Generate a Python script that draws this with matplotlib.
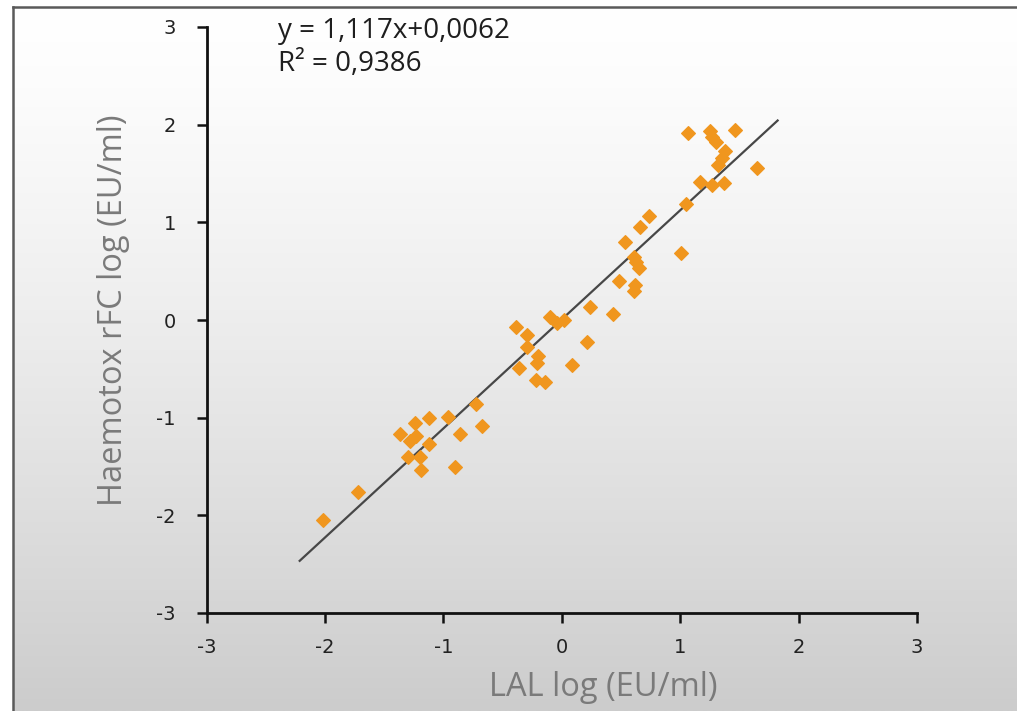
import numpy as np
import matplotlib
matplotlib.use("Agg")
import matplotlib.pyplot as plt
from matplotlib.lines import Line2D

# LAL vs Haemotox rFC endotoxin readings (log EU/ml)
lal_log = [
    -2.02, -1.72,
    -1.37, -1.24, -1.23, -1.28, -1.12, -0.96, -0.72, -0.67, -0.86, -1.12,
    -1.30, -1.20, -1.19, -0.90,
    -0.39, -0.29, -0.10, -0.04, 0.02, 0.24, 0.43, -0.29, -0.20, -0.21,
    -0.36, -0.22, -0.14, 0.21, 0.09,
    1.05, 0.74, 0.66, 0.53, 0.61, 0.63, 0.65, 1.01, 0.48, 0.62, 0.61,
    1.07, 1.25, 1.27, 1.30, 1.46, 1.38, 1.35, 1.32, 1.65, 1.17, 1.27, 1.37,
]
rfc_log = [
    -2.05, -1.76,
    -1.17, -1.05, -1.19, -1.24, -1.00, -0.99, -0.86, -1.09, -1.17, -1.27,
    -1.40, -1.40, -1.54, -1.51,
    -0.07, -0.15, 0.03, -0.03, 0.00, 0.13, 0.06, -0.28, -0.37, -0.44,
    -0.49, -0.61, -0.63, -0.23, -0.46,
    1.19, 1.06, 0.95, 0.80, 0.65, 0.59, 0.53, 0.69, 0.40, 0.36, 0.30,
    1.91, 1.94, 1.87, 1.82, 1.95, 1.73, 1.66, 1.59, 1.56, 1.41, 1.38, 1.40,
]

slope = 1.117
intercept = 0.0062
r_squared = 0.9386
fit_range = [-2.22, 1.83]

axis_ticks = [-3, -2, -1, 0, 1, 2, 3]

W, H = 1017, 711
fig = plt.figure(figsize=(W / 100, H / 100), dpi=100)
fig.patch.set_facecolor("white")

# soft vertical gradient backdrop with a thin frame on top and left
bg = fig.add_axes([0, 0, 1, 1], zorder=-10)
bg.set_xlim(0, W)
bg.set_ylim(H, 0)
bg.axis("off")
grad = np.linspace(0, 1, 256)[:, None]
top_c = np.array([1.0, 1.0, 1.0])
bot_c = np.array([0.80, 0.80, 0.80])
shade = grad ** 1.3
img = top_c[None, None, :] * (1 - shade[..., None]) + bot_c[None, None, :] * shade[..., None]
img = np.repeat(img, 2, axis=1)
bg.imshow(img, extent=[13, W, H, 7], aspect="auto", interpolation="bilinear")
bg.add_line(Line2D([13, W], [7, 7], color="#5a5a5a", lw=1.8))
bg.add_line(Line2D([13, 13], [7, H], color="#5a5a5a", lw=1.8))

ax = fig.add_axes([206.5 / W, (H - 613) / H, 710.5 / W, 586 / H])
ax.patch.set_alpha(0)
ax.set_xlim(-3, 3)
ax.set_ylim(-3, 3)
for side in ("top", "right"):
    ax.spines[side].set_visible(False)
for side in ("left", "bottom"):
    ax.spines[side].set_linewidth(2.0)
    ax.spines[side].set_color("#111111")
ax.set_xticks(axis_ticks)
ax.set_yticks(axis_ticks)
ax.set_xticklabels([str(t) for t in axis_ticks])
ax.set_yticklabels([str(t) for t in axis_ticks])
ax.tick_params(axis="both", direction="out", length=7, width=1.8, color="#111111",
               labelsize=14, labelcolor="#222222")
ax.tick_params(axis="x", pad=11)
ax.tick_params(axis="y", pad=15)
for lab in ax.get_xticklabels() + ax.get_yticklabels():
    lab.set_family(["Liberation Sans Narrow", "DejaVu Sans"])

fx = np.array(fit_range)
ax.plot(fx, slope * fx + intercept, color="#474747", lw=1.6, zorder=2,
        solid_capstyle="butt")
ax.plot(lal_log, rfc_log, linestyle="none", marker="D", ms=7.6,
        mfc="#f0961e", mec="#f0961e", mew=0.8, zorder=3)

ax.set_xlabel("LAL log (EU/ml)", fontsize=23.5, color="#7a7a7a",
              family=["Open Sans", "DejaVu Sans"])
ax.set_ylabel("Haemotox rFC log (EU/ml)", fontsize=23.5, color="#7a7a7a",
              family=["Open Sans", "DejaVu Sans"])
ax.xaxis.set_label_coords((603 - 206.5) / 710.5, (613 - 688) / 586)
ax.yaxis.set_label_coords((114 - 206.5) / 710.5, (613 - 310) / 586)
ax.xaxis.label.set_va("center")
ax.yaxis.label.set_va("center")

eq = "y = {:.3f}x+{:.4f}".format(slope, intercept).replace(".", ",")
r2 = "R² = {:.4f}".format(r_squared).replace(".", ",")
fig.text(278 / W, 1 - 31 / H, eq, fontsize=20, color="#1e1e1e",
         family=["Open Sans", "DejaVu Sans"], va="center", ha="left")
fig.text(278 / W, 1 - 64 / H, r2, fontsize=20, color="#1e1e1e",
         family=["Open Sans", "DejaVu Sans"], va="center", ha="left")

fig.savefig("out.png", dpi=100)
